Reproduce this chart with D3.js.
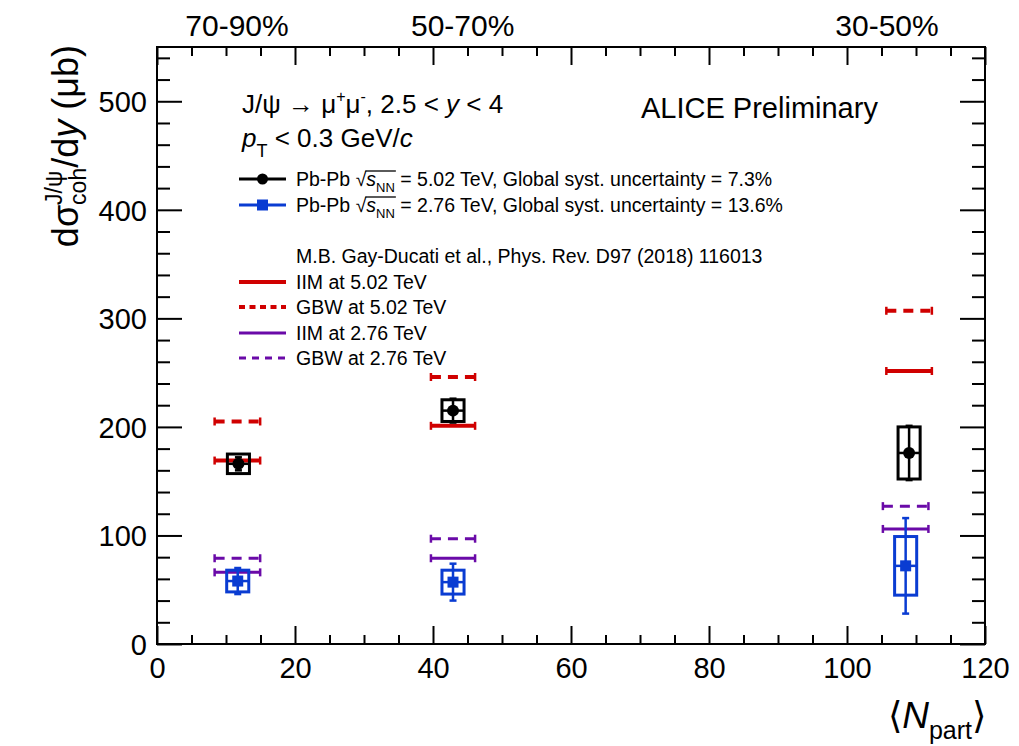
<!DOCTYPE html>
<html><head><meta charset="utf-8">
<script src="https://cdn.jsdelivr.net/npm/d3@7/dist/d3.min.js"></script>
<style>html,body{margin:0;padding:0;background:#fff;} text{white-space:pre;}</style>
</head><body>
<svg id="c" width="1019" height="746"></svg>
<script>
// ---------- data ----------
const centralityLabels = ["70-90%", "50-70%", "30-50%"];
const centralityLabelX = [11.6, 44.3, 105.8];

const npart502 = [11.8, 42.9, 109.0];
const sigma502 = [166, 215, 176];
const stat502  = [6, 11, 25];
const syst502  = [9, 10, 24];

const npart276 = [11.7, 42.9, 108.5];
const sigma276 = [58, 57, 72];
const stat276  = [12, 17, 44];
const syst276  = [10, 11, 27];
const systXerr = [1.6, 1.6, 1.6];

const modelX502 = [11.65, 42.9, 109.0];
const modelX276 = [11.65, 42.9, 108.5];
const modelXerr = [3.3, 3.2, 3.3];
const iim502 = [169, 201, 251.5];
const gbw502 = [205, 246, 307];
const iim276 = [66, 79, 106];
const gbw276 = [79, 97, 127];

const xTicks = [0, 20, 40, 60, 80, 100, 120];
const yTicks = [0, 100, 200, 300, 400, 500];

// ---------- setup ----------
const FONT = "'Liberation Sans', Arial, Helvetica, sans-serif";
const RED = "#d00000", PURPLE = "#6a0aa8", BLUE = "#0a3cd2", BLACK = "#000";
const svg = d3.select("#c").style("font-family", FONT);
const L = 157, R = 985, T = 47, B = 644;
const x = d3.scaleLinear().domain([0, 120]).range([L, R]);
const y = d3.scaleLinear().domain([0, 550]).range([B, T]);

// rich text helper
function rich(parent, px, py, pieces, opt = {}) {
  const fs = opt.fs || 20, anchor = opt.anchor || "start", rot = opt.rotate || 0;
  const g = parent.append("g").attr("transform", `translate(${px},${py}) rotate(${rot})`);
  const inner = g.append("g");
  let cur = 0, stackStart = 0;
  const out = [];
  pieces.forEach(p => {
    const t = inner.append("text").text(p.t)
      .attr("xml:space", "preserve")
      .style("white-space", "pre")
      .attr("font-size", p.fs || fs)
      .attr("font-style", p.it ? "italic" : "normal")
      .attr("fill", opt.fill || "#000")
      .attr("y", p.dy || 0);
    const w = t.node().getComputedTextLength();
    let x0;
    if (p.stack) x0 = stackStart; else { x0 = cur + (p.dx || 0); stackStart = x0; }
    t.attr("x", x0);
    cur = p.stack ? Math.max(cur, x0 + w) : x0 + w;
    out.push({ x0, x1: x0 + w });
  });
  if (anchor === "end") inner.attr("transform", `translate(${-cur},0)`);
  return { g: inner, out, width: cur };
}

// ---------- axes ----------
const axG = svg.append("g").attr("class", "axes");
function styleAxis(g) {
  g.select(".domain").remove();
  g.selectAll(".tick line").attr("stroke", "#000").attr("stroke-width", 2);
}
const minorX = d3.range(0, 121, 5).filter(v => v % 20 !== 0);
const minorY = d3.range(0, 551, 20).filter(v => v % 100 !== 0);

// bottom
axG.append("g").attr("transform", `translate(0,${B})`)
  .call(d3.axisBottom(x).tickValues(xTicks).tickSize(-18).tickPadding(0).tickFormat(d3.format("d")))
  .call(styleAxis)
  .call(g => g.selectAll("text").attr("y", 34).attr("dy", 0).attr("font-size", 29).attr("font-family", FONT).attr("fill", "#000"));
axG.append("g").attr("transform", `translate(0,${B})`)
  .call(d3.axisBottom(x).tickValues(minorX).tickSize(-9).tickFormat(""))
  .call(styleAxis);
// top
axG.append("g").attr("transform", `translate(0,${T})`)
  .call(d3.axisTop(x).tickValues(xTicks).tickSize(-18).tickFormat(""))
  .call(styleAxis);
axG.append("g").attr("transform", `translate(0,${T})`)
  .call(d3.axisTop(x).tickValues(minorX).tickSize(-9).tickFormat(""))
  .call(styleAxis);
// left
axG.append("g").attr("transform", `translate(${L},0)`)
  .call(d3.axisLeft(y).tickValues(yTicks).tickSize(-25).tickPadding(10).tickFormat(d3.format("d")))
  .call(styleAxis)
  .call(g => g.selectAll("text").attr("dy", "0.36em").attr("font-size", 29).attr("font-family", FONT).attr("fill", "#000"));
axG.append("g").attr("transform", `translate(${L},0)`)
  .call(d3.axisLeft(y).tickValues(minorY).tickSize(-13).tickFormat(""))
  .call(styleAxis);
// right
axG.append("g").attr("transform", `translate(${R},0)`)
  .call(d3.axisRight(y).tickValues(yTicks).tickSize(-25).tickFormat(""))
  .call(styleAxis);
axG.append("g").attr("transform", `translate(${R},0)`)
  .call(d3.axisRight(y).tickValues(minorY).tickSize(-13).tickFormat(""))
  .call(styleAxis);
// frame
svg.append("rect").attr("x", L).attr("y", T).attr("width", R - L).attr("height", B - T)
  .attr("fill", "none").attr("stroke", "#000").attr("stroke-width", 2);

// centrality labels
svg.append("g").selectAll("text").data(centralityLabels).join("text")
  .attr("x", (d, i) => x(centralityLabelX[i])).attr("y", 36)
  .attr("text-anchor", "middle").attr("font-size", 30).text(d => d);

// axis titles
rich(svg, 78, 45, [
  { t: "d\u03C3" },
  { t: "J/\u03C8", fs: 23, dy: -16 },
  { t: "coh", fs: 23, dy: 8, stack: true },
  { t: "/d" },
  { t: "y", it: true },
  { t: " (\u03BCb)" }
], { fs: 36, anchor: "end", rotate: -90 });

rich(svg, 986, 728, [
  { t: "\u27E8" },
  { t: "N", it: true },
  { t: "part", fs: 25, dy: 11 },
  { t: "\u27E9" }
], { fs: 37, anchor: "end" });

// ---------- models ----------
function modelLines(xs, vals, color, width, dash) {
  const g = svg.append("g");
  g.selectAll("line.h").data(vals).join("line").attr("class", "h")
    .attr("x1", (d, i) => x(xs[i] - modelXerr[i])).attr("x2", (d, i) => x(xs[i] + modelXerr[i]))
    .attr("y1", d => y(d)).attr("y2", d => y(d))
    .attr("stroke", color).attr("stroke-width", width)
    .attr("stroke-dasharray", dash || null);
  ["l", "r"].forEach(s => {
    g.selectAll("line.c" + s).data(vals).join("line").attr("class", "c" + s)
      .attr("x1", (d, i) => x(xs[i] + (s === "l" ? -1 : 1) * modelXerr[i]))
      .attr("x2", (d, i) => x(xs[i] + (s === "l" ? -1 : 1) * modelXerr[i]))
      .attr("y1", d => y(d) - 4).attr("y2", d => y(d) + 4)
      .attr("stroke", color).attr("stroke-width", 2.5);
  });
}
modelLines(modelX502, gbw502, RED, 4, "10,7");
modelLines(modelX502, iim502, RED, 4, null);
modelLines(modelX276, gbw276, PURPLE, 3, "10,7");
modelLines(modelX276, iim276, PURPLE, 3, null);

// ---------- data points ----------
function dataSeries(xs, vals, stat, syst, color, marker) {
  const g = svg.append("g");
  g.selectAll("rect").data(vals).join("rect")
    .attr("x", (d, i) => x(xs[i] - systXerr[i]))
    .attr("width", (d, i) => x(xs[i] + systXerr[i]) - x(xs[i] - systXerr[i]))
    .attr("y", (d, i) => y(d + syst[i]))
    .attr("height", (d, i) => y(d - syst[i]) - y(d + syst[i]))
    .attr("fill", "none").attr("stroke", color).attr("stroke-width", 3);
  g.selectAll("line.h").data(vals).join("line").attr("class", "h")
    .attr("x1", (d, i) => x(xs[i] - systXerr[i])).attr("x2", (d, i) => x(xs[i] + systXerr[i]))
    .attr("y1", d => y(d)).attr("y2", d => y(d))
    .attr("stroke", color).attr("stroke-width", 2.5);
  g.selectAll("line.v").data(vals).join("line").attr("class", "v")
    .attr("x1", (d, i) => x(xs[i])).attr("x2", (d, i) => x(xs[i]))
    .attr("y1", (d, i) => y(d + stat[i])).attr("y2", (d, i) => y(d - stat[i]))
    .attr("stroke", color).attr("stroke-width", 2.5);
  [1, -1].forEach(sg => {
    g.selectAll("line.cap" + (sg > 0 ? "u" : "d")).data(vals).join("line").attr("class", "cap" + (sg > 0 ? "u" : "d"))
      .attr("x1", (d, i) => x(xs[i]) - 3.5).attr("x2", (d, i) => x(xs[i]) + 3.5)
      .attr("y1", (d, i) => y(d + sg * stat[i])).attr("y2", (d, i) => y(d + sg * stat[i]))
      .attr("stroke", color).attr("stroke-width", 2.5);
  });
  if (marker === "circle") {
    g.selectAll("circle").data(vals).join("circle")
      .attr("cx", (d, i) => x(xs[i])).attr("cy", d => y(d)).attr("r", 6).attr("fill", color);
  } else {
    g.selectAll("rect.m").data(vals).join("rect").attr("class", "m")
      .attr("x", (d, i) => x(xs[i]) - 5.5).attr("y", d => y(d) - 5.5)
      .attr("width", 11).attr("height", 11).attr("fill", color);
  }
}
dataSeries(npart502, sigma502, stat502, syst502, BLACK, "circle");
dataSeries(npart276, sigma276, stat276, syst276, BLUE, "square");

// ---------- texts ----------
rich(svg, 242, 113, [
  { t: "J/\u03C8 \u2192 \u03BC" },
  { t: "+", fs: 16, dy: -11 },
  { t: "\u03BC" },
  { t: "-", fs: 16, dy: -11 },
  { t: ", 2.5 < " },
  { t: "y", it: true },
  { t: " < 4" }
], { fs: 26 });
rich(svg, 242, 147, [
  { t: "p", it: true },
  { t: "T", fs: 18, dy: 10 },
  { t: " < 0.3 GeV/" },
  { t: "c", it: true }
], { fs: 26 });
svg.append("text").attr("x", 641).attr("y", 118).attr("font-size", 29).text("ALICE Preliminary");

// legend
const LX1 = 239, LX2 = 286, LT = 296, LFS = 19.5;
function sqrtEntry(yy, energy, unc) {
  const r = rich(svg, LT, yy + 7, [
    { t: "Pb-Pb " },
    { t: "\u221A" },
    { t: "s", it: true },
    { t: "NN", fs: 13, dy: 6 },
    { t: " = " + energy + " TeV, Global syst. uncertainty = " + unc }
  ], { fs: LFS });
  r.g.append("line").attr("x1", r.out[1].x1 - 1).attr("x2", r.out[3].x1 + 1)
    .attr("y1", -15).attr("y2", -15).attr("stroke", "#000").attr("stroke-width", 1.3);
}
svg.append("line").attr("x1", LX1).attr("x2", LX2).attr("y1", 179).attr("y2", 179).attr("stroke", BLACK).attr("stroke-width", 3);
svg.append("circle").attr("cx", (LX1 + LX2) / 2).attr("cy", 179).attr("r", 5.5).attr("fill", BLACK);
sqrtEntry(179, "5.02", "7.3%");
svg.append("line").attr("x1", LX1).attr("x2", LX2).attr("y1", 205).attr("y2", 205).attr("stroke", BLUE).attr("stroke-width", 3);
svg.append("rect").attr("x", (LX1 + LX2) / 2 - 5.5).attr("y", 199.5).attr("width", 11).attr("height", 11).attr("fill", BLUE);
sqrtEntry(205, "2.76", "13.6%");

svg.append("text").attr("x", LT).attr("y", 263).attr("font-size", LFS).text("M.B. Gay-Ducati et al., Phys. Rev. D97 (2018) 116013");
const modelLegend = [
  { label: "IIM at 5.02 TeV", y: 282, c: RED, w: 4, dash: null },
  { label: "GBW at 5.02 TeV", y: 307, c: RED, w: 4, dash: "6,4.5" },
  { label: "IIM at 2.76 TeV", y: 333, c: PURPLE, w: 3, dash: null },
  { label: "GBW at 2.76 TeV", y: 358, c: PURPLE, w: 3, dash: "7,6" }
];
modelLegend.forEach(m => {
  svg.append("line").attr("x1", LX1).attr("x2", LX2).attr("y1", m.y).attr("y2", m.y)
    .attr("stroke", m.c).attr("stroke-width", m.w).attr("stroke-dasharray", m.dash);
  svg.append("text").attr("x", LT).attr("y", m.y + 7).attr("font-size", LFS).text(m.label);
});
</script>
</body></html>
